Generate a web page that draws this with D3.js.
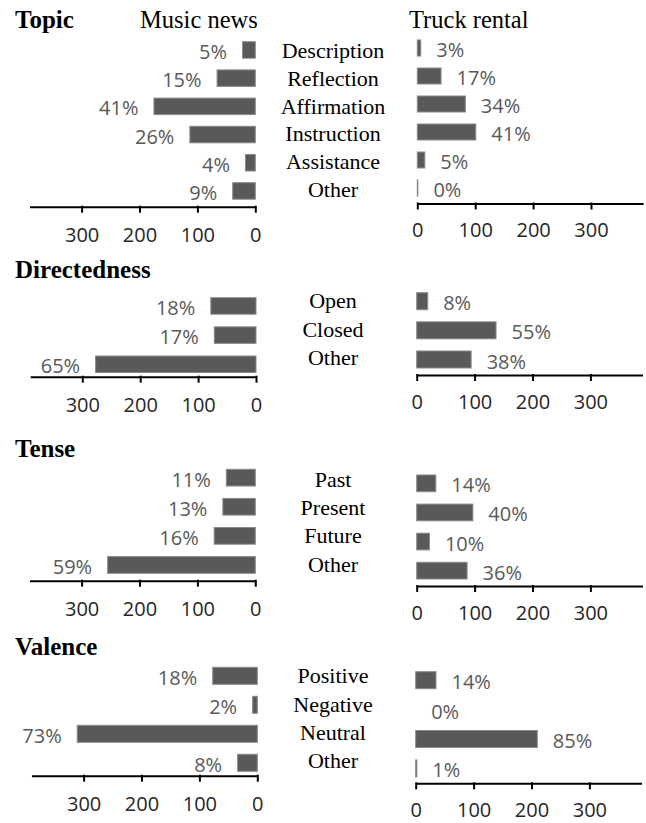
<!DOCTYPE html>
<html>
<head>
<meta charset="utf-8">
<script src="https://cdn.jsdelivr.net/npm/d3@7/dist/d3.min.js"></script>
<style>
  html, body { margin: 0; padding: 0; background: #fff; }
  svg { display: block; }
</style>
</head>
<body>
<svg id="chart" width="646" height="823"></svg>
<script>
// ---------- DATA ----------
const sectionTitles = ["Topic", "Directedness", "Tense", "Valence"];
const groupTitles = ["Music news", "Truck rental"];

const topicCategories = ["Description", "Reflection", "Affirmation", "Instruction", "Assistance", "Other"];
const topicMusic = [22, 66, 175, 113, 17, 39];
const topicMusicLabels = ["5%", "15%", "41%", "26%", "4%", "9%"];
const topicTruck = [6, 41, 83, 101, 13, 1];
const topicTruckLabels = ["3%", "17%", "34%", "41%", "5%", "0%"];

const directCategories = ["Open", "Closed", "Other"];
const directMusic = [78, 72, 277];
const directMusicLabels = ["18%", "17%", "65%"];
const directTruck = [19, 137, 94];
const directTruckLabels = ["8%", "55%", "38%"];

const tenseCategories = ["Past", "Present", "Future", "Other"];
const tenseMusic = [50, 56, 71, 255];
const tenseMusicLabels = ["11%", "13%", "16%", "59%"];
const tenseTruck = [33, 97, 22, 87];
const tenseTruckLabels = ["14%", "40%", "10%", "36%"];

const valenceCategories = ["Positive", "Negative", "Neutral", "Other"];
const valenceMusic = [77, 8, 311, 34];
const valenceMusicLabels = ["18%", "2%", "73%", "8%"];
const valenceTruck = [35, 0, 210, 2];
const valenceTruckLabels = ["14%", "0%", "85%", "1%"];

const axisTicks = [0, 100, 200, 300];
const axisMax = 390;

// ---------- LAYOUT ----------
const svg = d3.select("#chart");
const PX = 0.579;            // pixels per unit
const axisLen = axisMax * PX;

const sections = [
  { title: sectionTitles[0], titleY: 28.3, cats: topicCategories, catY: 58.3, catStep: 27.7,
    left:  { vals: topicMusic, labels: topicMusicLabels, x0: 255.3, top: 41.7, step: 28.2, h: 16.5, axisY: 206.7 },
    right: { vals: topicTruck, labels: topicTruckLabels, x0: 417.3, top: 40.0, step: 28.0, h: 16.0, axisY: 203.5 } },
  { title: sectionTitles[1], titleY: 278.3, cats: directCategories, catY: 308.3, catStep: 28.3,
    left:  { vals: directMusic, labels: directMusicLabels, x0: 256, top: 297.7, step: 29.15, h: 16.5, axisY: 376.7 },
    right: { vals: directTruck, labels: directTruckLabels, x0: 416.7, top: 292.7, step: 29.15, h: 17, axisY: 375 } },
  { title: sectionTitles[2], titleY: 456.7, cats: tenseCategories, catY: 487, catStep: 28.2,
    left:  { vals: tenseMusic, labels: tenseMusicLabels, x0: 255.3, top: 469.3, step: 29.1, h: 16.7, axisY: 580.7 },
    right: { vals: tenseTruck, labels: tenseTruckLabels, x0: 416.7, top: 475, step: 29.1, h: 16.7, axisY: 586 } },
  { title: sectionTitles[3], titleY: 655, cats: valenceCategories, catY: 683.3, catStep: 28.3,
    left:  { vals: valenceMusic, labels: valenceMusicLabels, x0: 257.3, top: 667.3, step: 29.0, h: 17, axisY: 775.7 },
    right: { vals: valenceTruck, labels: valenceTruckLabels, x0: 415.7, top: 671.7, step: 29.4, h: 17, axisY: 783.3 } }
];

const serif = "'Liberation Serif', 'Times New Roman', serif";
const sans = "'Open Sans', 'Noto Sans', sans-serif";

// Group headers
svg.append("text").attr("x", 140).attr("y", 28.3)
  .attr("font-family", serif).attr("font-size", 24.5).attr("fill", "#000")
  .text(groupTitles[0]);
svg.append("text").attr("x", 409).attr("y", 28.3)
  .attr("font-family", serif).attr("font-size", 24.5).attr("fill", "#000")
  .text(groupTitles[1]);

function drawPanel(p, cats, dir) {
  const g = svg.append("g");
  const x = d3.scaleLinear().domain([0, axisMax])
    .range(dir < 0 ? [p.x0, p.x0 - axisLen] : [p.x0, p.x0 + axisLen]);
  const n = cats.length;
  const y = d3.scaleBand().domain(cats)
    .range([p.top, p.top + (n - 1) * p.step + p.h])
    .paddingInner((p.step - p.h) / p.step).paddingOuter(0);

  const data = cats.map((c, i) => ({ c, v: p.vals[i], l: p.labels[i] }));

  g.selectAll("rect.bar").data(data).enter().append("rect")
    .attr("class", "bar")
    .attr("x", d => Math.min(x(0), x(d.v)))
    .attr("width", d => Math.abs(x(d.v) - x(0)))
    .attr("y", d => y(d.c))
    .attr("height", y.bandwidth())
    .attr("fill", "#595959")
    .attr("stroke", d => d.v > 0 ? "#8a8a8a" : "none")
    .attr("stroke-width", 1);

  g.selectAll("text.pct").data(data).enter().append("text")
    .attr("class", "pct")
    .attr("x", d => x(d.v) + dir * 15.5)
    .attr("y", d => y(d.c) + y.bandwidth() / 2 + 9)
    .attr("text-anchor", dir < 0 ? "end" : "start")
    .attr("font-family", sans).attr("font-size", 20)
    .attr("fill", "#595959")
    .text(d => d.l);

  const axis = d3.axisBottom(x).tickValues(axisTicks).tickSize(6).tickSizeOuter(0).tickPadding(10);
  const ag = g.append("g").attr("transform", `translate(0,${p.axisY})`).call(axis);
  ag.select(".domain").attr("stroke", "#000").attr("stroke-width", 2);
  ag.selectAll(".tick line").attr("stroke", "#000").attr("stroke-width", 2).attr("y1", -1);
  ag.selectAll(".tick text")
    .attr("font-family", sans).attr("font-size", 20).attr("fill", "#262626")
    .attr("dy", null).attr("y", dir < 0 ? 35 : 33.5);
}

sections.forEach(s => {
  svg.append("text").attr("x", 15).attr("y", s.titleY)
    .attr("font-family", serif).attr("font-weight", "bold").attr("font-size", 25)
    .attr("fill", "#000").text(s.title);

  svg.append("g").selectAll("text").data(s.cats).enter().append("text")
    .attr("x", 333)
    .attr("y", (d, i) => s.catY + i * s.catStep)
    .attr("text-anchor", "middle")
    .attr("font-family", serif).attr("font-size", 22)
    .attr("fill", "#000")
    .text(d => d);

  drawPanel(s.left, s.cats, -1);
  drawPanel(s.right, s.cats, 1);
});
</script>
</body>
</html>
